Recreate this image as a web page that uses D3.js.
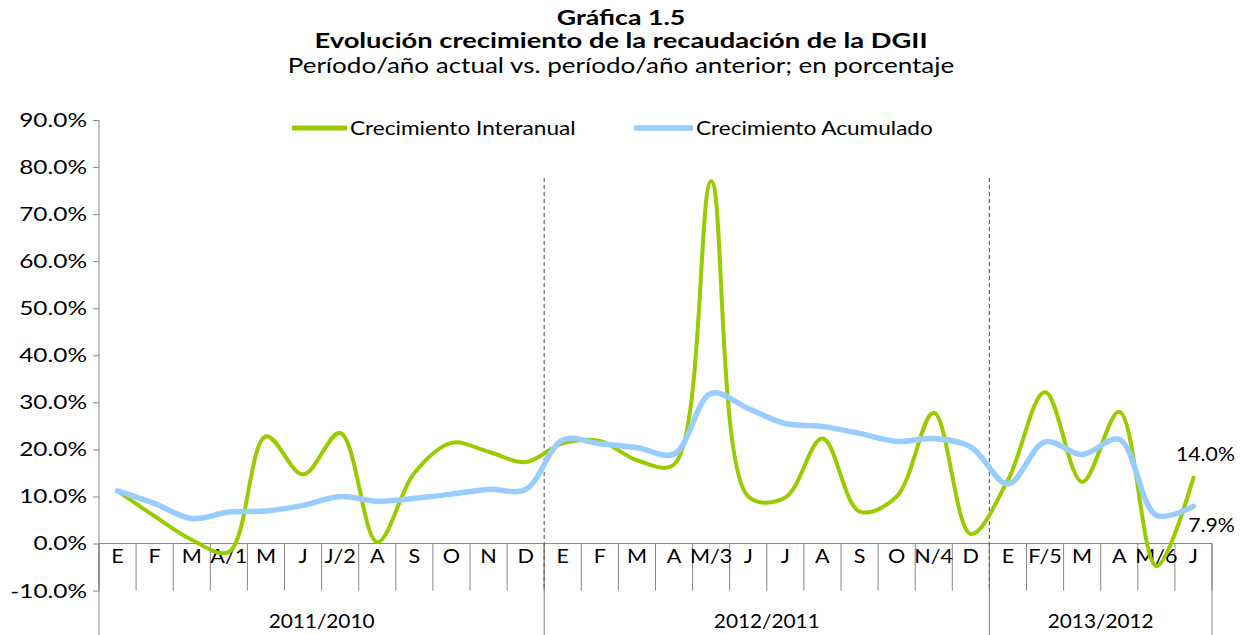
<!DOCTYPE html>
<html><head><meta charset="utf-8">
<script src="https://cdn.jsdelivr.net/npm/d3@7"></script>
<style>
html,body{margin:0;padding:0;background:#fff;}
svg{display:block;font-family:Lato,"Open Sans",sans-serif;}
</style></head>
<body><svg id="c" width="1245" height="635"></svg>
<script>
const months = ["E","F","M","A/1","M","J","J/2","A","S","O","N","D","E","F","M","A","M/3","J","J","A","S","O","N/4","D","E","F/5","M","A","M/6","J"];
const years = ["2011/2010","2012/2011","2013/2012"];
const yearCounts = [12,12,6];
const interanual = [11.2,5.8,0.8,-1.8,22.8,14.7,23.5,0.3,15.0,21.4,19.5,17.3,21.3,21.8,17.7,16.8,77.0,10.0,9.8,22.3,6.8,10.0,27.8,2.0,13.5,32.2,13.1,28.0,-4.8,14.0];
const acumulado = [11.2,8.5,5.3,6.7,6.9,8.1,10.0,9.0,9.6,10.5,11.5,11.5,22.0,21.2,20.4,19.0,31.9,28.7,25.5,24.9,23.4,21.7,22.3,20.5,12.7,21.6,18.9,22.1,6.0,7.9];
const yTicks = [-10,0,10,20,30,40,50,60,70,80,90];
const seriesNames = ["Crecimiento Interanual","Crecimiento Acumulado"];
const titles = ["Gráfica 1.5","Evolución crecimiento de la recaudación de la DGII","Período/año actual vs. período/año anterior; en porcentaje"];

(function(){
const svg = d3.select("#c");
const pL = 99, pR = 1212, pT = 120, pB = 590.6;
const GREEN = "#99CC00", BLUE = "#99CCFF", AX = "#868686";
const x = d3.scaleBand().domain(d3.range(months.length)).range([pL, pR]).paddingInner(0).paddingOuter(0);
const y = d3.scaleLinear().domain([-10, 90]).range([pB, pT]);
const cx = i => x(i) + x.bandwidth()/2;
const fmt = v => d3.format(".1f")(v).replace("\u2212", "-") + "%";
// horizontally stretch a text by a factor (reference glyphs are wider than the available font)
function stretch(sel, k) {
  sel.each(function(){
    const w = this.getComputedTextLength();
    d3.select(this).attr("textLength", w * k).attr("lengthAdjust", "spacingAndGlyphs");
  });
  return sel;
}

// titles
const tx = 621;
stretch(svg.append("text").attr("x", tx).attr("y", 25).attr("text-anchor","middle").attr("font-weight","bold").attr("font-size",21).text(titles[0]), 1.27);
stretch(svg.append("text").attr("x", tx).attr("y", 48).attr("text-anchor","middle").attr("font-weight","bold").attr("font-size",21).text(titles[1]), 1.3);
stretch(svg.append("text").attr("x", tx).attr("y", 73).attr("text-anchor","middle").attr("font-size",21.5).text(titles[2]), 1.21);

// y axis
const yAxis = d3.axisLeft(y).tickValues(yTicks).tickFormat(fmt).tickSize(6).tickPadding(6);
const ga = svg.append("g").attr("transform", `translate(${pL},0)`).call(yAxis);
ga.select(".domain").attr("stroke", AX).attr("d", `M0,${pT}V${pB}`);
ga.selectAll(".tick line").attr("stroke", AX);
const tt = ga.selectAll(".tick text").attr("font-size", 20).attr("fill","#000").attr("font-family","Lato,'Open Sans',sans-serif");
stretch(tt, 1.22);

// x axis line at zero
const y0 = y(0);
svg.append("line").attr("x1", pL).attr("x2", pR).attr("y1", y0).attr("y2", y0).attr("stroke", AX);

// month separators
d3.range(months.length + 1).forEach(i => {
  const xx = i < months.length ? x(i) : pR;
  svg.append("line").attr("x1", xx).attr("x2", xx).attr("y1", y0).attr("y2", pB).attr("stroke", AX);
});
// group separators
let acc = 0;
const bounds = [0];
yearCounts.forEach(c => { acc += c; bounds.push(acc); });
bounds.forEach(b => {
  const xx = b < months.length ? x(b) : pR;
  svg.append("line").attr("x1", xx).attr("x2", xx).attr("y1", y0).attr("y2", 635).attr("stroke", AX);
});

// dashed separators in plot
bounds.slice(1, -1).forEach(b => {
  svg.append("line").attr("x1", x(b)).attr("x2", x(b)).attr("y1", 178).attr("y2", pB)
    .attr("stroke", "#666").attr("stroke-width", 1.2).attr("stroke-dasharray", "4,3");
});

// month labels
const ml = svg.append("g").selectAll("text").data(months).join("text")
  .attr("x", (d,i) => cx(i)).attr("y", 563).attr("text-anchor","middle").attr("font-size",20).text(d => d);
stretch(ml, 1.08);
// year labels
years.forEach((yr, k) => {
  const a = bounds[k], b = bounds[k+1];
  const xa = x(a), xb = b < months.length ? x(b) : pR;
  stretch(svg.append("text").attr("x", (xa+xb)/2).attr("y", 628).attr("text-anchor","middle").attr("font-size",20).text(yr), 1.04);
});

// lines
const line = d3.line().x((d,i) => cx(i)).y(d => y(d)).curve(d3.curveCatmullRom.alpha(0.5));
svg.append("path").datum(interanual).attr("d", line).attr("fill","none").attr("stroke", GREEN).attr("stroke-width", 4).attr("stroke-linecap","round").attr("stroke-linejoin","round");
svg.append("path").datum(acumulado).attr("d", line).attr("fill","none").attr("stroke", BLUE).attr("stroke-width", 5.5).attr("stroke-linecap","round").attr("stroke-linejoin","round");

// data labels
const last = months.length - 1;
stretch(svg.append("text").attr("x", cx(last) + 12).attr("y", y(interanual[last]) - 17).attr("text-anchor","middle").attr("font-size",20).text(fmt(interanual[last])), 1.06);
stretch(svg.append("text").attr("x", cx(last) + 18).attr("y", y(acumulado[last]) + 26).attr("text-anchor","middle").attr("font-size",20).text(fmt(acumulado[last])), 1.06);

// legend
const leg = [{x1:292,x2:347,c:GREEN,w:5,t:seriesNames[0],k:1.13},{x1:634,x2:693,c:BLUE,w:5.5,t:seriesNames[1],k:1.13}];
leg.forEach(l => {
  svg.append("line").attr("x1", l.x1).attr("x2", l.x2).attr("y1", 128).attr("y2", 128).attr("stroke", l.c).attr("stroke-width", l.w);
  stretch(svg.append("text").attr("x", l.x2 + 3).attr("y", 135).attr("font-size",20).text(l.t), l.k);
});
})();
</script></body></html>
